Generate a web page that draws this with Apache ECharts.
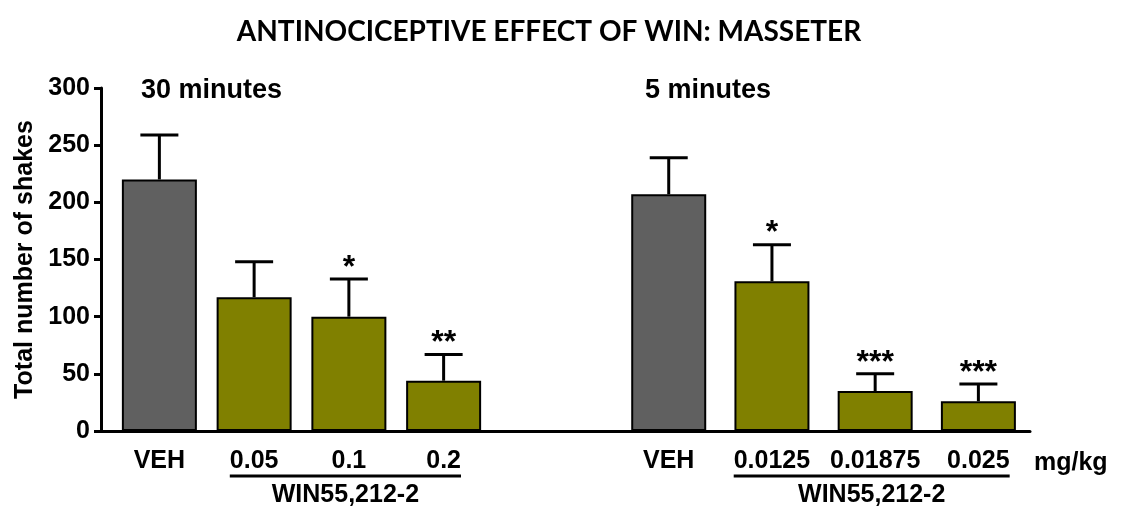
<!DOCTYPE html>
<html>
<head>
<meta charset="utf-8">
<script src="https://cdn.jsdelivr.net/npm/echarts@6/dist/echarts.min.js"></script>
<style>
  html, body { margin: 0; padding: 0; background: #fff; }
  #main { width: 1121px; height: 508px; }
</style>
</head>
<body>
<div id="main"></div>
<script>
// 30 minutes group
var cats30 = ['VEH', '0.05', '0.1', '0.2'];
var mean30 = [220, 117, 100, 44];
var upper30 = [259, 148, 133, 67];
var sig30 = ['', '', '*', '**'];

// 5 minutes group
var cats5 = ['VEH', '0.0125', '0.01875', '0.025'];
var mean5 = [207, 131, 35, 26];
var upper5 = [239, 163, 50, 41];
var sig5 = ['', '*', '***', '***'];

var yTicks = [0, 50, 100, 150, 200, 250, 300];

var FONT = '"Liberation Sans", Arial, sans-serif';
var GREY = '#606060', OLIVE = '#808000';
var LBL = 25;
var GAP = 5; // empty slots before the 5 minutes group on the full-width axis

var chart = echarts.init(document.getElementById('main'));

function barColor(p) { return p.name === 'VEH' ? GREY : OLIVE; }

function errRender(sig) {
  return function (params, api) {
    var x = api.value(0);
    var base = api.coord([x, api.value(1)]);
    var top = api.coord([x, api.value(2)]);
    return {
      type: 'group',
      children: [
        { type: 'line', shape: { x1: top[0], y1: base[1], x2: top[0], y2: top[1] },
          style: { stroke: '#000', lineWidth: 3 } },
        { type: 'line', shape: { x1: top[0] - 19, y1: top[1], x2: top[0] + 19, y2: top[1] },
          style: { stroke: '#000', lineWidth: 3 } },
        { type: 'text', style: { text: sig[params.dataIndex], x: top[0], y: top[1] + 5,
          align: 'center', verticalAlign: 'bottom', fontSize: 32, fontWeight: 'bold',
          fontFamily: FONT, fill: '#000' } }
      ]
    };
  };
}

var axis5 = [];
for (var k = 0; k < GAP; k++) axis5.push('');
axis5 = axis5.concat(cats5);
var bars5 = axis5.map(function (c, i) { return i < GAP ? null : mean5[i - GAP]; });

var tickStyle = { alignWithLabel: true, length: 8, lineStyle: { color: '#000', width: 3 } };
var labelStyle = { color: '#000', fontSize: LBL, fontWeight: 'bold', fontFamily: FONT, margin: 18, interval: 0 };

var option = {
  animation: false,
  backgroundColor: '#fff',
  title: [
    { text: 'ANTINOCICEPTIVE EFFECT OF WIN: MASSETER', left: 544, top: 13, textAlign: 'center',
      textStyle: { fontSize: 28, fontWeight: 'bold', fontFamily: 'Lato, sans-serif', color: '#000' } },
    { text: '30 minutes', left: 136, top: 72,
      textStyle: { fontSize: 27, fontWeight: 'bold', fontFamily: FONT, color: '#000' } },
    { text: '5 minutes', left: 640, top: 72,
      textStyle: { fontSize: 27, fontWeight: 'bold', fontFamily: FONT, color: '#000' } }
  ],
  grid: [
    { left: 112, top: 88, width: 379, height: 343 },
    { left: 101, top: 88, width: 929, height: 343 }
  ],
  xAxis: [
    { type: 'category', gridIndex: 0, data: cats30,
      axisLine: { show: false }, axisTick: tickStyle, axisLabel: labelStyle },
    { type: 'category', gridIndex: 1, data: axis5,
      axisLine: { lineStyle: { color: '#000', width: 3 } },
      axisTick: Object.assign({}, tickStyle, { interval: function (i) { return i >= GAP; } }),
      axisLabel: labelStyle,
      name: 'mg/kg', nameLocation: 'end', nameGap: 4,
      nameTextStyle: { color: '#000', fontSize: LBL, fontWeight: 'bold', fontFamily: FONT,
        verticalAlign: 'top', padding: [20, 0, 0, 0] } }
  ],
  yAxis: [
    { type: 'value', gridIndex: 0, min: yTicks[0], max: yTicks[yTicks.length - 1], interval: 50,
      show: false, splitLine: { show: false } },
    { type: 'value', gridIndex: 1, min: yTicks[0], max: yTicks[yTicks.length - 1], interval: 50,
      name: 'Total number of shakes', nameLocation: 'middle', nameGap: 62,
      nameTextStyle: { color: '#000', fontSize: 25, fontWeight: 'bold', fontFamily: FONT },
      axisLine: { show: true, lineStyle: { color: '#000', width: 3 } },
      axisTick: { show: true, length: 7, lineStyle: { color: '#000', width: 3 } },
      axisLabel: { color: '#000', fontSize: LBL, fontWeight: 'bold', fontFamily: FONT, margin: 11 },
      splitLine: { show: false } }
  ],
  series: [
    { type: 'bar', xAxisIndex: 0, yAxisIndex: 0, barWidth: 75, data: mean30,
      itemStyle: { color: barColor, borderColor: '#000', borderWidth: 2 } },
    { type: 'bar', xAxisIndex: 1, yAxisIndex: 1, barWidth: 75, data: bars5,
      itemStyle: { color: barColor, borderColor: '#000', borderWidth: 2 } },
    { type: 'custom', xAxisIndex: 0, yAxisIndex: 0, z: 5, renderItem: errRender(sig30),
      data: mean30.map(function (m, i) { return [i, m, upper30[i]]; }) },
    { type: 'custom', xAxisIndex: 1, yAxisIndex: 1, z: 5, renderItem: errRender(sig5),
      data: mean5.map(function (m, i) { return [i + GAP, m, upper5[i]]; }) }
  ]
};

chart.setOption(option);

// underline brackets for the drug doses, spanning the dose labels
var ctx = document.createElement('canvas').getContext('2d');
ctx.font = 'bold ' + LBL + 'px ' + FONT;
function bracket(axisIdx, first, last) {
  var x1 = chart.convertToPixel({ xAxisIndex: axisIdx }, first) - ctx.measureText(first).width / 2;
  var x2 = chart.convertToPixel({ xAxisIndex: axisIdx }, last) + ctx.measureText(last).width / 2;
  return [
    { type: 'line', shape: { x1: x1, y1: 476, x2: x2, y2: 476 }, style: { stroke: '#000', lineWidth: 3 } },
    { type: 'text', x: (x1 + x2) / 2, y: 495,
      style: { text: 'WIN55,212-2', align: 'center', verticalAlign: 'middle', fontSize: 25,
        fontWeight: 'bold', fontFamily: FONT, fill: '#000' } }
  ];
}
chart.setOption({
  graphic: bracket(0, cats30[1], cats30[3]).concat(bracket(1, cats5[1], cats5[3]))
});
</script>
</body>
</html>
